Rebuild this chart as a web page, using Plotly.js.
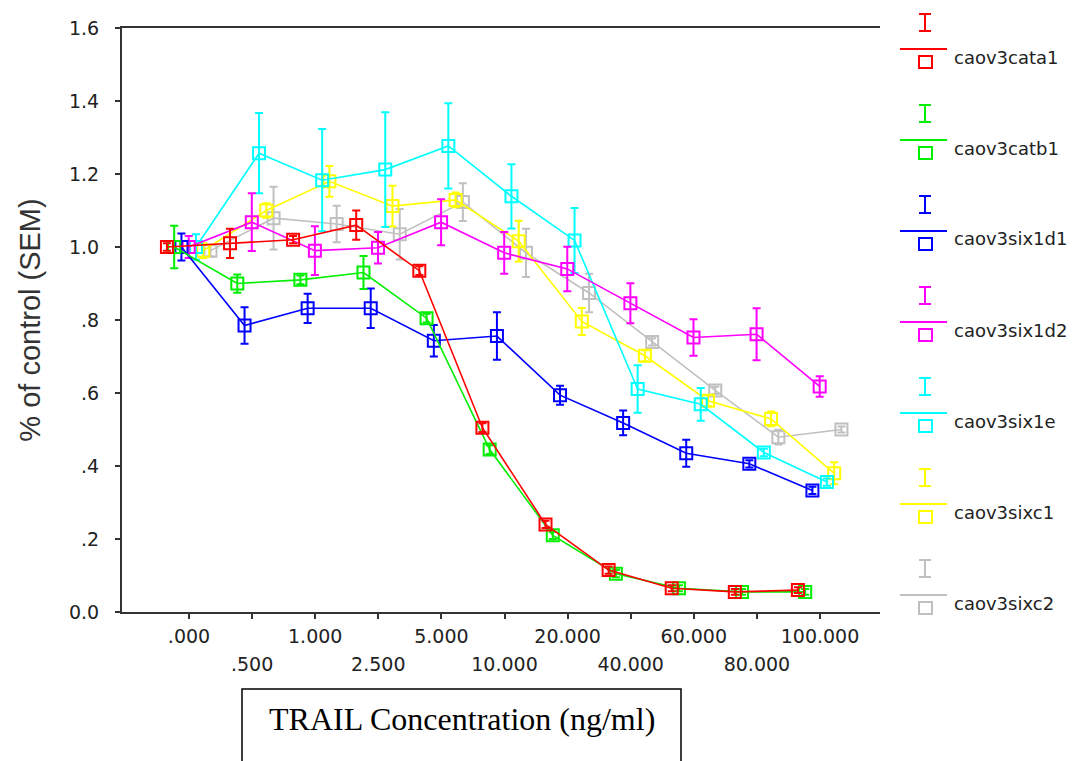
<!DOCTYPE html>
<html>
<head>
<meta charset="utf-8">
<script src="https://cdn.plot.ly/plotly-3.0.1.min.js"></script>
<style>
html,body{margin:0;padding:0;background:#fff;}
#chart{width:1085px;height:761px;}
</style>
</head>
<body>
<div id="chart"></div>
<script>
// ---------------- DATA ----------------
const categories = ['.000','.500','1.000','2.500','5.000','10.000','20.000','40.000','60.000','80.000','100.000'];
const yTickValues = [0, 0.2, 0.4, 0.6, 0.8, 1.0, 1.2, 1.4, 1.6];
const yTickLabels = ['0.0', '.2', '.4', '.6', '.8', '1.0', '1.2', '1.4', '1.6'];
const seriesNames = ['caov3cata1','caov3catb1','caov3six1d1','caov3six1d2','caov3six1e','caov3sixc1','caov3sixc2'];

const cata1_mean = [1.00, 1.01, 1.02, 1.06, 0.935, 0.505, 0.24, 0.115, 0.065, 0.055, 0.06];
const cata1_sem  = [0.01, 0.04, 0.01, 0.04, 0.012, 0.012, 0.01, 0.01, 0.008, 0.008, 0.008];

const catb1_mean = [1.00, 0.90, 0.91, 0.93, 0.805, 0.445, 0.21, 0.105, 0.065, 0.055, 0.055];
const catb1_sem  = [0.058, 0.025, 0.012, 0.045, 0.012, 0.012, 0.01, 0.01, 0.008, 0.008, 0.008];

const six1d1_mean = [1.00, 0.785, 0.832, 0.832, 0.743, 0.756, 0.594, 0.518, 0.435, 0.406, 0.333];
const six1d1_sem  = [0.037, 0.05, 0.04, 0.054, 0.043, 0.065, 0.026, 0.034, 0.037, 0.01, 0.01];

const six1d2_mean = [1.00, 1.068, 0.99, 0.998, 1.068, 0.984, 0.94, 0.846, 0.752, 0.761, 0.618];
const six1d2_sem  = [0.03, 0.079, 0.067, 0.043, 0.063, 0.057, 0.061, 0.055, 0.05, 0.071, 0.028];

const six1e_mean = [1.00, 1.257, 1.183, 1.212, 1.277, 1.139, 1.018, 0.611, 0.569, 0.437, 0.356];
const six1e_sem  = [0.035, 0.11, 0.14, 0.157, 0.117, 0.088, 0.089, 0.065, 0.045, 0.01, 0.01];

const sixc1_mean = [0.99, 1.10, 1.18, 1.112, 1.129, 1.016, 0.796, 0.702, 0.579, 0.529, 0.38];
const sixc1_sem  = [0.02, 0.02, 0.042, 0.056, 0.02, 0.056, 0.037, 0.015, 0.015, 0.02, 0.03];

const sixc2_mean = [0.99, 1.079, 1.063, 1.035, 1.123, 0.984, 0.874, 0.74, 0.607, 0.479, 0.50];
const sixc2_sem  = [0.015, 0.086, 0.05, 0.069, 0.052, 0.066, 0.053, 0.01, 0.01, 0.02, 0.008];

const allMeans = [cata1_mean, catb1_mean, six1d1_mean, six1d2_mean, six1e_mean, sixc1_mean, sixc2_mean];
const allSems  = [cata1_sem, catb1_sem, six1d1_sem, six1d2_sem, six1e_sem, sixc1_sem, sixc2_sem];

// ---------------- STYLE ----------------
const colors = ['#ff0000', '#00ee00', '#0000ff', '#ff00ff', '#00ffff', '#ffff00', '#c0c0c0'];
const clusterOffsets = [-0.35, -0.235, -0.12, -0.005, 0.11, 0.225, 0.34];
const L = 122, R = 880, T = 28, B = 612;
const W = R - L, H = B - T;
const px = p => (p - L) / W;
const py = p => (B - p) / H;
const axisColor = '#333333';
const tickFont = {family: 'DejaVu Sans', size: 19, color: '#222222'};

// ---------------- TRACES ----------------
const traces = [];
for (let s = seriesNames.length - 1; s >= 0; s--) {
  traces.push({
    type: 'scatter',
    mode: 'lines+markers',
    name: seriesNames[s],
    x: categories.map((c, i) => i + clusterOffsets[s]),
    y: allMeans[s],
    error_y: {type: 'data', array: allSems[s], visible: true, color: colors[s], thickness: 2, width: 4},
    line: {color: colors[s], width: 1.6},
    marker: {symbol: 'square-open', size: 12, color: colors[s], line: {width: 2, color: colors[s]}},
    showlegend: false,
    hoverinfo: 'x+y'
  });
}
// helper trace for second row of x tick labels
traces.push({
  type: 'scatter', mode: 'markers', xaxis: 'x2', yaxis: 'y',
  x: categories.map((c, i) => i).filter(i => i % 2 === 1),
  y: categories.map((c, i) => i).filter(i => i % 2 === 1).map(() => 0.5),
  marker: {opacity: 0}, showlegend: false, hoverinfo: 'skip'
});

// ---------------- LEGEND (custom, drawn with shapes) ----------------
const shapes = [];
const annotations = [];
const step = 91;
seriesNames.forEach((name, k) => {
  const dy = k * step;
  const c = colors[k];
  const ln = {color: c, width: 2};
  shapes.push({type: 'line', xref: 'paper', yref: 'paper', x0: px(925), x1: px(925), y0: py(14 + dy), y1: py(31 + dy), line: ln});
  shapes.push({type: 'line', xref: 'paper', yref: 'paper', x0: px(919), x1: px(931), y0: py(14 + dy), y1: py(14 + dy), line: ln});
  shapes.push({type: 'line', xref: 'paper', yref: 'paper', x0: px(919), x1: px(931), y0: py(31 + dy), y1: py(31 + dy), line: ln});
  shapes.push({type: 'line', xref: 'paper', yref: 'paper', x0: px(900), x1: px(947), y0: py(49 + dy), y1: py(49 + dy), line: ln});
  shapes.push({type: 'rect', xref: 'paper', yref: 'paper', x0: px(919), x1: px(932), y0: py(56 + dy), y1: py(68 + dy), line: ln, fillcolor: 'rgba(0,0,0,0)'});
  annotations.push({
    xref: 'paper', yref: 'paper', x: px(952), y: py(57 + dy), xanchor: 'left', yanchor: 'middle',
    text: name, showarrow: false, font: {family: 'DejaVu Sans', size: 18, color: '#222222'}
  });
});

// x-axis title box
shapes.push({type: 'rect', xref: 'paper', yref: 'paper', x0: px(242), x1: px(681), y0: py(689), y1: py(790),
  line: {color: '#000000', width: 1.5}, fillcolor: 'rgba(0,0,0,0)'});
annotations.push({
  xref: 'paper', yref: 'paper', x: px(462), y: py(719), xanchor: 'center', yanchor: 'middle',
  text: 'TRAIL Concentration (ng/ml)', showarrow: false,
  font: {family: 'Liberation Serif', size: 32, color: '#000000'}
});

const xRange = [-1.062, 10.951];

const layout = {
  width: 1085, height: 761,
  margin: {l: L, r: 1085 - R, t: T, b: 761 - B, pad: 0},
  paper_bgcolor: '#ffffff', plot_bgcolor: '#ffffff',
  font: {family: 'DejaVu Sans', color: '#222222'},
  showlegend: false,
  xaxis: {
    range: xRange, tickmode: 'array',
    tickvals: categories.map((c, i) => i),
    ticktext: categories.map((c, i) => i % 2 === 0 ? c : ''),
    ticks: 'outside', ticklen: 5, tickwidth: 2, tickcolor: axisColor,
    showline: true, linecolor: axisColor, linewidth: 2, mirror: true,
    showgrid: false, zeroline: false, tickfont: tickFont, ticklabelstandoff: 1
  },
  xaxis2: {
    range: xRange, overlaying: 'x', anchor: 'y', side: 'bottom', tickmode: 'array',
    tickvals: categories.map((c, i) => i).filter(i => i % 2 === 1),
    ticktext: categories.filter((c, i) => i % 2 === 1),
    ticks: '', showline: false, showgrid: false, zeroline: false,
    tickfont: tickFont, ticklabelstandoff: 39
  },
  yaxis: {
    range: [0, 1.6], tickmode: 'array', tickvals: yTickValues, ticktext: yTickLabels,
    ticks: 'outside', ticklen: 5, tickwidth: 2, tickcolor: axisColor,
    showline: true, linecolor: axisColor, linewidth: 2,
    showgrid: false, zeroline: false, tickfont: tickFont, ticklabelstandoff: 12,
    title: {text: '% of control (SEM)', font: {family: 'Liberation Sans', size: 29, color: '#333333'}, standoff: 20}
  },
  shapes: shapes,
  annotations: annotations
};

Plotly.newPlot('chart', traces, layout, {displayModeBar: false, staticPlot: true});
</script>
</body>
</html>
